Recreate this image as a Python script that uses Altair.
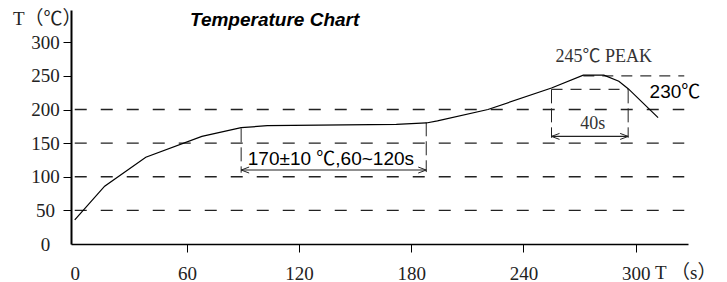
import altair as alt
import pandas as pd

# ---- data ----
curve_t = [0, 16, 38, 68, 89, 103, 172, 188, 194, 221, 255, 272, 283, 291, 296, 312]
curve_v = [36, 86, 129, 160, 173, 176, 178, 180, 183, 200, 232, 251, 251, 242, 231, 188]

x_ticks = [0, 60, 120, 180, 240, 300]
y_ticks = [0, 50, 100, 150, 200, 250, 300]

grid_levels = [50, 100, 150, 200]
grid_start = [0, 0, 0, 0]
grid_end = [326, 326, 326, 326]

top_levels = [250, 230]
top_start = [272, 255]
top_end = [326, 296]

vert_t = [89, 188, 255, 296]
vert_top = [172, 181, 230, 230]
vert_bottom = [106, 107, 158, 158]

arrow_v = [110, 160]
arrow_from = [89, 255]
arrow_to = [188, 296]

serif_labels = ["245℃  PEAK", "40s"]
serif_t = [283, 277]
serif_v = [278, 178]

sans_labels = ["230℃", "170±10 ℃,60~120s"]
sans_t = [321, 137]
sans_v = [226, 127]

title_text = "Temperature Chart"
y_unit = "T（℃）"
x_unit = "T （s）"

SERIF = "Liberation Serif, Noto Sans CJK SC"
SANS = "Liberation Sans, Noto Sans CJK SC"

xscale = alt.Scale(domain=[-2, 328], nice=False, zero=False)
yscale = alt.Scale(domain=[0, 348], nice=False, zero=False)

hide_zero = {"condition": {"test": "datum.value === 0", "value": 0}, "value": 1}

X = alt.X("t:Q", scale=xscale, axis=alt.Axis(
    values=x_ticks, title=None, grid=False, domainColor="black", domainWidth=1.5,
    tickColor="black", tickSize=8, tickWidth=1, tickOpacity=hide_zero,
    labelFont=SERIF, labelFontSize=19, labelColor="#222", labelPadding=21,
    labelBaseline="middle", labelFlush=False))
Y = alt.Y("v:Q", scale=yscale, axis=alt.Axis(
    values=y_ticks, title=None, grid=False, domainColor="black", domainWidth=2,
    tickColor="black", tickSize=8, tickWidth=1, tickOpacity=hide_zero,
    labelFont=SERIF, labelFontSize=19, labelColor="#222", labelPadding=18,
    labelAlign="center", labelBaseline="middle", labelFlush=False))

curve = pd.DataFrame({"t": curve_t, "v": curve_v})
grid = pd.DataFrame({"t": grid_start, "t2": grid_end, "v": grid_levels})
tops = pd.DataFrame({"t": top_start, "t2": top_end, "v": top_levels})
verts = pd.DataFrame({"t": vert_t, "v": vert_top, "v2": vert_bottom})
arrows = pd.DataFrame({"t": arrow_from, "t2": arrow_to, "v": arrow_v})
heads_l = pd.DataFrame({"t": arrow_from, "v": arrow_v})
heads_r = pd.DataFrame({"t": arrow_to, "v": arrow_v})
serif_df = pd.DataFrame({"t": serif_t, "v": serif_v, "label": serif_labels})
sans_df = pd.DataFrame({"t": sans_t, "v": sans_v, "label": sans_labels})

grid_layer = alt.Chart(grid).mark_rule(color="#222", strokeWidth=1.3, strokeDash=[12, 14]).encode(
    x=X, x2="t2:Q", y=Y)
top_layer = alt.Chart(tops).mark_rule(color="#333", strokeWidth=1.2, strokeDash=[11, 8]).encode(
    x=X, x2="t2:Q", y=Y)
vert_layer = alt.Chart(verts).mark_rule(color="#222", strokeWidth=1, strokeDash=[14, 5]).encode(
    x=X, y=Y, y2="v2:Q")
arrow_layer = alt.Chart(arrows).mark_rule(color="#222", strokeWidth=1.1).encode(
    x=X, x2="t2:Q", y=Y)
head_l_layer = alt.Chart(heads_l).mark_point(
    shape="M0,0L4,-1.5M0,0L4,1.5", size=16, filled=False, color="#222", strokeWidth=1, opacity=1
).encode(x=X, y=Y)
head_r_layer = alt.Chart(heads_r).mark_point(
    shape="M0,0L-4,-1.5M0,0L-4,1.5", size=16, filled=False, color="#222", strokeWidth=1, opacity=1
).encode(x=X, y=Y)
curve_layer = alt.Chart(curve).mark_line(color="black", strokeWidth=1.2).encode(x=X, y=Y)

serif_layer = alt.Chart(serif_df).mark_text(
    font=SERIF, fontSize=18, color="#333", align="center", baseline="middle"
).encode(x=X, y=Y, text="label:N")
sans_layer = alt.Chart(sans_df).mark_text(
    font=SANS, fontSize=19, color="black", align="center", baseline="middle"
).encode(x=X, y=Y, text="label:N")

title_layer = alt.Chart(pd.DataFrame({"label": [title_text]})).mark_text(
    font=SANS, fontSize=19, fontWeight="bold", fontStyle="italic", color="black",
    align="left", baseline="alphabetic"
).encode(x=alt.value(119), y=alt.value(16), text="label:N")
yunit_layer = alt.Chart(pd.DataFrame({"label": [y_unit]})).mark_text(
    font=SERIF, fontSize=19, color="#222", align="left", baseline="middle"
).encode(x=alt.value(-58), y=alt.value(9), text="label:N")
xunit_layer = alt.Chart(pd.DataFrame({"label": [x_unit]})).mark_text(
    font=SERIF, fontSize=19, color="#222", align="left", baseline="middle"
).encode(x=alt.value(584), y=alt.value(263), text="label:N")

chart = alt.layer(
    grid_layer, top_layer, vert_layer, arrow_layer, head_l_layer, head_r_layer,
    curve_layer, serif_layer, sans_layer, title_layer, yunit_layer, xunit_layer
).properties(
    width=617, height=234,
    autosize=alt.AutoSizeParams(type="none"),
    padding={"left": 63, "top": 2, "right": 31, "bottom": 38},
    background="white",
).configure_view(stroke=None)

chart.save("out.html", embed_options={"renderer": "svg", "actions": False})
